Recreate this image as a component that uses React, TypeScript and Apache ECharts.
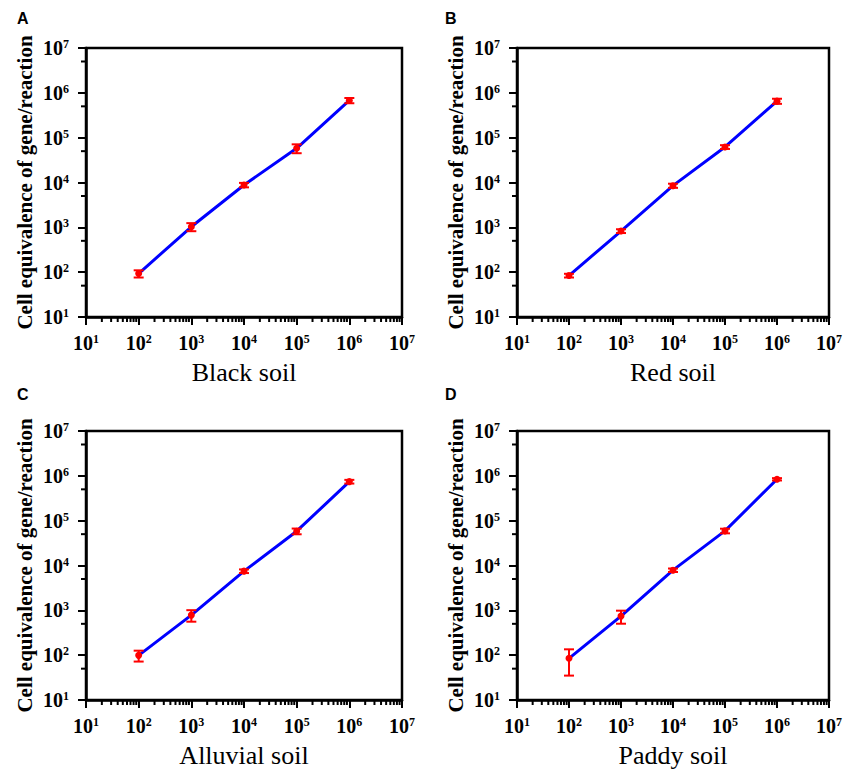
import React, { useEffect, useRef } from "react";
import * as echarts from "echarts";

const xValues = [1e2, 1e3, 1e4, 1e5, 1e6];

const blackY = [93, 1030, 8800, 58000, 676000];
const blackErr = [17, 210, 1000, 13000, 90000];
const redY = [84, 826, 8500, 62000, 653000];
const redErr = [8, 80, 900, 6000, 85000];
const alluvialY = [99, 783, 7480, 58200, 743000];
const alluvialErr = [27, 225, 700, 8500, 70000];
const paddyY = [85, 743, 7870, 59200, 838000];
const paddyErr = [50, 240, 700, 7000, 50000];

const panelNames = ["Black soil", "Red soil", "Alluvial soil", "Paddy soil"];
const panelLetters = ["A", "B", "C", "D"];
const yTitle = "Cell equivalence of gene/reaction";

// minor tick positions (2..9 x 10^n) and y minor ticks (5 x 10^n)
const xMinorTicks: number[] = [];
for (let e = 1; e < 7; e++) for (let m = 2; m <= 9; m++) xMinorTicks.push(m * Math.pow(10, e));
const yMinorTicks = [5e1, 5e2, 5e3, 5e4, 5e5, 5e6];

const SERIF = "'Liberation Serif', 'Times New Roman', serif";

export default function App() {
  const ref = useRef<HTMLDivElement>(null);
  useEffect(() => {
    if (!ref.current) return;
    const chart = echarts.init(ref.current, null, { renderer: "svg" });
    const grids = [
      { left: 86, top: 48, width: 316, height: 269 },
      { left: 517, top: 48, width: 316, height: 269 },
      { left: 86, top: 431, width: 316, height: 269 },
      { left: 517, top: 431, width: 316, height: 269 },
    ];
    const ys = [blackY, redY, alluvialY, paddyY];
    const errs = [blackErr, redErr, alluvialErr, paddyErr];
    const rich = {
      b: { fontFamily: SERIF, fontWeight: "bold", fontSize: 20, color: "#000" },
      s: { fontFamily: SERIF, fontWeight: "bold", fontSize: 12, color: "#000", verticalAlign: "top" },
    };
    const fmt = (v: number) => `{b|10}{s|${Math.round(Math.log10(v))}}`;
    const xAxes: any[] = [];
    const yAxes: any[] = [];
    const series: any[] = [];
    grids.forEach((g, i) => {
      xAxes.push({
        type: "log", gridIndex: i, min: 10, max: 1e7, logBase: 10,
        name: panelNames[i], nameLocation: "middle", nameGap: 42,
        nameTextStyle: { fontFamily: SERIF, fontSize: 26, color: "#000" },
        axisLine: { lineStyle: { color: "#000", width: 2.5 } },
        axisTick: { length: 8, lineStyle: { color: "#000", width: 2 } },
        axisLabel: { margin: 16, formatter: fmt, rich, showMinLabel: true, showMaxLabel: true },
        splitLine: { show: false },
      });
      yAxes.push({
        type: "log", gridIndex: i, min: 10, max: 1e7, logBase: 10,
        name: yTitle, nameLocation: "middle", nameGap: 51,
        nameTextStyle: { fontFamily: SERIF, fontSize: 21, fontWeight: "bold", color: "#000" },
        axisLine: { lineStyle: { color: "#000", width: 2.5 } },
        axisTick: { length: 8, lineStyle: { color: "#000", width: 2 } },
        axisLabel: { margin: 17, formatter: fmt, rich, showMinLabel: true, showMaxLabel: true },
        splitLine: { show: false },
      });
      // x minor ticks
      series.push({
        type: "custom", xAxisIndex: i, yAxisIndex: i, silent: true, clip: false,
        data: xMinorTicks.map((v) => [v, 10]),
        renderItem: (_p: any, api: any) => {
          const c = api.coord([api.value(0), 10]);
          return { type: "line", shape: { x1: c[0], y1: c[1], x2: c[0], y2: c[1] + 5 }, style: { stroke: "#000", lineWidth: 2 } };
        },
      });
      // y minor ticks
      series.push({
        type: "custom", xAxisIndex: i, yAxisIndex: i, silent: true, clip: false,
        data: yMinorTicks.map((v) => [10, v]),
        renderItem: (_p: any, api: any) => {
          const c = api.coord([10, api.value(1)]);
          return { type: "line", shape: { x1: c[0], y1: c[1], x2: c[0] - 5, y2: c[1] }, style: { stroke: "#000", lineWidth: 2 } };
        },
      });
      series.push({
        type: "line", xAxisIndex: i, yAxisIndex: i,
        data: xValues.map((x, k) => [x, ys[i][k]]),
        lineStyle: { color: "#0000ff", width: 3 },
        symbol: "circle", symbolSize: 7,
        itemStyle: { color: "#ff0000" },
        z: 3,
      });
      series.push({
        type: "custom", xAxisIndex: i, yAxisIndex: i, z: 4,
        data: xValues.map((x, k) => [x, ys[i][k], errs[i][k]]),
        encode: { x: 0, y: 1 },
        renderItem: (_p: any, api: any) => {
          const x = api.value(0), y = api.value(1), e = api.value(2);
          const t = api.coord([x, y + e]);
          const b = api.coord([x, y - e]);
          const st = { stroke: "#ff0000", lineWidth: 2 };
          return {
            type: "group",
            children: [
              { type: "line", shape: { x1: t[0], y1: t[1], x2: b[0], y2: b[1] }, style: st },
              { type: "line", shape: { x1: t[0] - 5, y1: t[1], x2: t[0] + 5, y2: t[1] }, style: st },
              { type: "line", shape: { x1: b[0] - 5, y1: b[1], x2: b[0] + 5, y2: b[1] }, style: st },
            ],
          };
        },
      });
    });
    const letterPos = [[17, 18], [445, 18], [17, 394], [445, 394]];
    chart.setOption({
      animation: false,
      backgroundColor: "#fff",
      grid: grids.map((g) => ({ ...g, show: true, borderColor: "#000", borderWidth: 2.5, backgroundColor: "transparent" })),
      xAxis: xAxes,
      yAxis: yAxes,
      series,
      graphic: panelLetters.map((l, i) => ({
        type: "text", x: letterPos[i][0], y: letterPos[i][1],
        style: { text: l, fontFamily: "'Liberation Sans', Arial, sans-serif", fontWeight: "bold", fontSize: 16, fill: "#000", verticalAlign: "middle" },
      })),
    });
    return () => chart.dispose();
  }, []);
  return <div ref={ref} style={{ position: "fixed", left: 0, top: 0, width: 845, height: 770 }} />;
}
